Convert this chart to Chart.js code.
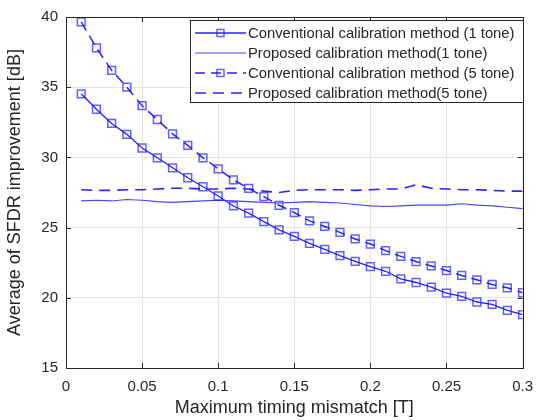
<!DOCTYPE html>
<html>
<head>
<meta charset="utf-8">
<script src="https://cdn.jsdelivr.net/npm/chart.js@4.4.1/dist/chart.umd.min.js"></script>
<style>
    html, body { margin: 0; padding: 0; background: #ffffff; }
    #wrap { width: 543px; height: 420px; position: relative; }
</style>
</head>
<body>
<div id="wrap"><canvas id="sfdr-chart"></canvas></div>
<script>
// Данные
const mismatch = [0.01, 0.02, 0.03, 0.04, 0.05, 0.06, 0.07, 0.08, 0.09, 0.10,
                  0.11, 0.12, 0.13, 0.14, 0.15, 0.16, 0.17, 0.18, 0.19, 0.20,
                  0.21, 0.22, 0.23, 0.24, 0.25, 0.26, 0.27, 0.28, 0.29, 0.30];

const conv1 = [34.53, 33.43, 32.42, 31.64, 30.67, 29.97, 29.26, 28.55, 27.91, 27.25,
               26.54, 26.03, 25.43, 24.84, 24.37, 23.87, 23.45, 23.00, 22.60, 22.22,
               21.89, 21.35, 21.09, 20.76, 20.33, 20.10, 19.70, 19.53, 19.11, 18.80];

const prop1 = [26.90, 26.95, 26.90, 27.00, 26.95, 26.85, 26.80, 26.85, 26.90, 26.95,
               26.90, 26.85, 26.80, 26.75, 26.80, 26.85, 26.80, 26.75, 26.65, 26.55,
               26.50, 26.55, 26.60, 26.60, 26.60, 26.70, 26.60, 26.55, 26.45, 26.35];

const conv5 = [39.65, 37.80, 36.20, 35.00, 33.68, 32.70, 31.67, 30.86, 29.97, 29.19,
               28.40, 27.80, 27.20, 26.59, 26.07, 25.48, 25.08, 24.66, 24.19, 23.83,
               23.36, 22.95, 22.58, 22.27, 21.94, 21.59, 21.28, 20.95, 20.71, 20.36];

const prop5 = [27.70, 27.65, 27.65, 27.70, 27.70, 27.75, 27.80, 27.80, 27.75, 27.75,
               27.80, 27.75, 27.60, 27.50, 27.65, 27.70, 27.70, 27.70, 27.65, 27.70,
               27.75, 27.75, 28.05, 27.80, 27.75, 27.70, 27.70, 27.65, 27.60, 27.60];

const seriesNames = [
    'Conventional calibration method (1 tone)',
    'Proposed calibration method(1 tone)',
    'Conventional calibration method (5 tone)',
    'Proposed calibration method(5 tone)'
];

const xTicks = [0, 0.05, 0.1, 0.15, 0.2, 0.25, 0.3];
const yTicks = [15, 20, 25, 30, 35, 40];

const FONT = "'Liberation Sans', Arial, sans-serif";
const TEXT = '#262626';
const AXIS = '#262626';

const toPoints = (ys) => mismatch.map((x, i) => ({x: x, y: ys[i]}));

// Рамка и внутренние засечки как в MATLAB
const boxPlugin = {
    id: 'boxPlugin',
    afterDatasetsDraw(chart) {
        const {ctx, chartArea: a, scales} = chart;
        ctx.save();
        ctx.strokeStyle = AXIS;
        ctx.lineWidth = 1;
        ctx.strokeRect(Math.round(a.left) + 0.5, Math.round(a.top) + 0.5,
                       Math.round(a.right - a.left), Math.round(a.bottom - a.top));
        const len = 5;
        ctx.beginPath();
        xTicks.forEach(v => {
            const px = Math.round(scales.x.getPixelForValue(v)) + 0.5;
            ctx.moveTo(px, a.bottom); ctx.lineTo(px, a.bottom - len);
            ctx.moveTo(px, a.top); ctx.lineTo(px, a.top + len);
        });
        yTicks.forEach(v => {
            const py = Math.round(scales.y.getPixelForValue(v)) + 0.5;
            ctx.moveTo(a.left, py); ctx.lineTo(a.left + len, py);
            ctx.moveTo(a.right, py); ctx.lineTo(a.right - len, py);
        });
        ctx.stroke();
        ctx.restore();
    }
};

// Легенда рисуется вручную внутри области графика
const legendPlugin = {
    id: 'legendPlugin',
    afterDraw(chart) {
        const {ctx} = chart;
        const box = {x: 190.5, y: 20.5, w: 333, h: 82};
        ctx.save();
        ctx.fillStyle = '#ffffff';
        ctx.fillRect(box.x, box.y, box.w, box.h);
        ctx.strokeStyle = AXIS;
        ctx.lineWidth = 1;
        ctx.strokeRect(box.x, box.y, box.w, box.h);
        ctx.font = '14.8px ' + FONT;
        ctx.textBaseline = 'middle';
        chart.data.datasets.forEach((ds, i) => {
            const y = 33 + i * 20;
            ctx.strokeStyle = ds.borderColor;
            ctx.lineWidth = ds.borderWidth;
            ctx.setLineDash(ds.borderDash || []);
            ctx.beginPath();
            ctx.moveTo(195, y);
            ctx.lineTo(246, y);
            ctx.stroke();
            ctx.setLineDash([]);
            if (ds.pointRadius > 0) {
                ctx.strokeStyle = ds.pointBorderColor;
                ctx.lineWidth = ds.pointBorderWidth;
                const r = 3.5;
                ctx.strokeRect(220.5 - r, y - r, 2 * r, 2 * r);
            }
            ctx.fillStyle = TEXT;
            ctx.fillText(ds.label, 248, y + 1);
        });
        ctx.restore();
    }
};

new Chart(document.getElementById('sfdr-chart'), {
    type: 'line',
    data: {
        datasets: [
            {
                label: seriesNames[0],
                data: toPoints(conv1),
                borderColor: '#2424ff',
                borderWidth: 1.3,
                pointStyle: 'rect',
                pointRadius: 5.5,
                pointBorderWidth: 1.5,
                pointBorderColor: 'rgba(30,30,255,0.7)',
                pointBackgroundColor: 'rgba(0,0,0,0)'
            },
            {
                label: seriesNames[1],
                data: toPoints(prop1),
                borderColor: '#4545ff',
                borderWidth: 1.1,
                pointRadius: 0
            },
            {
                label: seriesNames[2],
                data: toPoints(conv5),
                borderColor: '#2424ff',
                borderWidth: 1.5,
                borderDash: [10, 6],
                pointStyle: 'rect',
                pointRadius: 5.5,
                pointBorderWidth: 1.5,
                pointBorderColor: 'rgba(30,30,255,0.7)',
                pointBackgroundColor: 'rgba(0,0,0,0)'
            },
            {
                label: seriesNames[3],
                data: toPoints(prop5),
                borderColor: '#2424ff',
                borderWidth: 1.6,
                borderDash: [11, 7],
                pointRadius: 0
            }
        ]
    },
    options: {
        responsive: true,
        maintainAspectRatio: false,
        animation: false,
        layout: {padding: {left: 0, right: 18, top: 15, bottom: 0}},
        plugins: {
            legend: {display: false},
            tooltip: {enabled: false}
        },
        elements: {line: {tension: 0}},
        scales: {
            x: {
                type: 'linear',
                min: 0,
                max: 0.3,
                afterBuildTicks(scale) {
                    scale.ticks = xTicks.map(v => ({value: v}));
                },
                afterFit(scale) { scale.height = 52; },
                grid: {color: '#e4e4e4', drawTicks: false},
                border: {display: false},
                ticks: {
                    padding: 10,
                    color: TEXT,
                    font: {family: FONT, size: 15},
                    callback: (v) => String(+v.toFixed(2))
                },
                title: {
                    display: true,
                    text: 'Maximum timing mismatch [T]',
                    color: TEXT,
                    font: {family: FONT, size: 18},
                    padding: {top: 0, bottom: 1}
                }
            },
            y: {
                min: 15,
                max: 40,
                afterBuildTicks(scale) {
                    scale.ticks = yTicks.map(v => ({value: v}));
                },
                afterFit(scale) { scale.width = 66; },
                grid: {color: '#e4e4e4', drawTicks: false},
                border: {display: false},
                ticks: {
                    padding: 8,
                    color: TEXT,
                    font: {family: FONT, size: 15}
                },
                title: {
                    display: true,
                    text: 'Average of SFDR improvement [dB]',
                    color: TEXT,
                    font: {family: FONT, size: 18},
                    padding: {top: 4, bottom: 0}
                }
            }
        }
    },
    plugins: [boxPlugin, legendPlugin]
});
</script>
</body>
</html>
